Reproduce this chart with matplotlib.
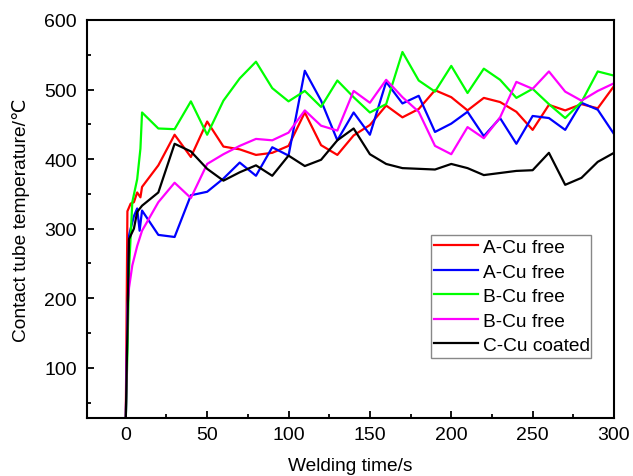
import numpy as np
import matplotlib
matplotlib.use("Agg")
import matplotlib.pyplot as plt
from matplotlib.ticker import MultipleLocator

plt.rcParams['font.family'] = ['Liberation Sans', 'DejaVu Sans']

# common sampling after the first 10 s
t = [10, 20, 30, 40, 50, 60, 70, 80, 90, 100, 110, 120, 130, 140, 150,
     160, 170, 180, 190, 200, 210, 220, 230, 240, 250, 260, 270, 280, 290, 300]

# start-up part of each curve (irregular times)
red_t0 = [0, 1, 3, 5, 7, 9]
red_v0 = [25, 325, 336, 338, 352, 345]
blue_t0 = [0, 2, 3, 5, 7, 8.5]
blue_v0 = [25, 290, 300, 318, 329, 297]
green_t0 = [0, 1, 2, 4, 7, 9]
green_v0 = [25, 120, 240, 338, 371, 415]
magenta_t0 = [0, 1, 2, 4, 7]
magenta_v0 = [25, 185, 215, 247, 275]
black_t0 = [0, 2, 5, 7]
black_v0 = [25, 285, 300, 324]

red = [360, 391, 435, 403, 454, 418, 414, 406, 409, 419, 467, 420, 406, 434, 449,
       477, 460, 472, 499, 489, 470, 488, 482, 468, 442, 478, 470, 479, 473, 505]
blue = [326, 291, 288, 348, 353, 372, 395, 376, 417, 405, 527, 484, 427, 467, 435,
        511, 480, 491, 439, 451, 468, 433, 459, 422, 462, 459, 442, 481, 471, 436]
green = [467, 444, 443, 483, 435, 484, 516, 540, 502, 483, 498, 475, 513, 489, 467,
         479, 554, 513, 497, 534, 495, 530, 514, 488, 501, 479, 459, 482, 526, 520]
magenta = [297, 338, 366, 344, 393, 407, 419, 429, 427, 438, 470, 448, 441, 498, 481,
           514, 489, 468, 419, 407, 446, 430, 460, 511, 501, 526, 497, 484, 498, 509]
black = [333, 352, 422, 411, 386, 369, 381, 391, 376, 405, 390, 399, 427, 444, 407,
         393, 387, 386, 385, 393, 387, 377, 380, 383, 384, 409, 363, 373, 396, 409]

labels = ['A-Cu free', 'A-Cu free', 'B-Cu free', 'B-Cu free', 'C-Cu coated']
colors = ['#ff0000', '#0000ff', '#00ff00', '#ff00ff', '#000000']

fig = plt.figure(figsize=(6.33, 4.77), dpi=100)
ax = fig.add_axes([0.137, 0.122, 0.833, 0.834])

series = [(red_t0, red_v0, red), (blue_t0, blue_v0, blue), (green_t0, green_v0, green),
          (magenta_t0, magenta_v0, magenta), (black_t0, black_v0, black)]
for (t0, v0, v), lab, c in zip(series, labels, colors):
    x = np.concatenate([t0, t])
    y = np.concatenate([v0, v])
    ax.plot(x, y, color=c, lw=1.6, label=lab)

ax.set_xlim(-24, 300)
ax.set_ylim(28, 600)
ax.xaxis.set_major_locator(MultipleLocator(50))
ax.xaxis.set_minor_locator(MultipleLocator(25))
ax.yaxis.set_major_locator(MultipleLocator(100))
ax.yaxis.set_minor_locator(MultipleLocator(50))
ax.set_yticks([100, 200, 300, 400, 500, 600])
ax.tick_params(which='both', direction='in', width=1.3, labelsize=14)
ax.tick_params(which='major', length=5)
ax.tick_params(axis='x', which='major', pad=6)
ax.tick_params(axis='y', which='major', pad=7)
ax.tick_params(which='minor', length=3)
for s in ax.spines.values():
    s.set_linewidth(1.5)

ax.set_xlabel('Welding time/s', fontsize=13.8, labelpad=10)
ax.set_ylabel('Contact tube temperature/℃', fontsize=13.8, labelpad=10)

leg = ax.legend(loc='upper left', bbox_to_anchor=(0.652, 0.143, 0.304, 0.317),
                mode='expand', fontsize=13.8,
                fancybox=False, framealpha=1, edgecolor='#888888',
                handlelength=2.3, borderpad=0.2, labelspacing=0.37,
                handletextpad=0.25, borderaxespad=0)
leg.get_frame().set_linewidth(1.0)

fig.savefig('out.png', dpi=100)
